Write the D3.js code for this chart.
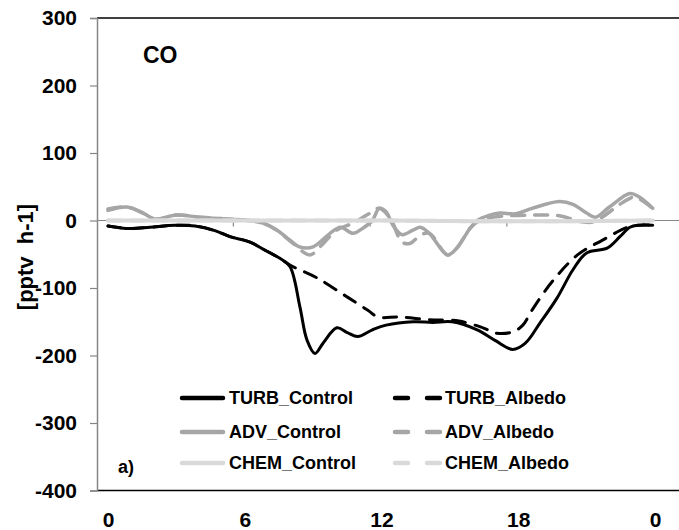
<!DOCTYPE html>
<html>
<head>
<meta charset="utf-8">
<script src="https://cdn.jsdelivr.net/npm/d3@7"></script>
<style>
  html, body { margin: 0; padding: 0; background: #fff; }
  svg { display: block; font-family: "Liberation Sans", Arial, sans-serif; font-weight: bold; }
</style>
</head>
<body>
<svg id="chart" width="679" height="530"></svg>
<script>
// ---- data (hour of day, pptv h-1) ----
const xTickLabels = ["0", "6", "12", "18", "0"];
const xTickHours = [0, 6, 12, 18, 24];
const xMinorTicks = [5.5, 11.5, 17.5, 23.5];
const yTicks = [300, 200, 100, 0, -100, -200, -300, -400];

const turbControl = [[0,-8],[0.96,-12],[1.84,-10],[2.94,-7],[3.82,-8],[4.69,-15],[5.35,-24],[6.23,-32],[6.89,-44],[7.54,-56],[7.98,-68],[8.42,-128],[8.73,-177],[9.08,-197],[9.45,-181],[10.04,-159],[10.5,-166],[10.96,-172],[11.6,-162],[12.2,-155],[13.4,-150],[14.25,-151],[15.1,-150],[16.2,-162],[17.0,-178],[17.76,-191],[18.3,-182],[18.95,-152],[19.7,-115],[20.4,-73],[21.0,-48],[21.9,-41],[22.46,-24],[22.9,-10],[23.3,-7],[23.9,-7]];
const turbAlbedo = [[0,-8],[0.96,-12],[1.84,-10],[2.94,-7],[3.82,-8],[4.69,-15],[5.35,-24],[6.23,-32],[6.89,-44],[7.54,-56],[7.98,-66],[9.17,-85],[10.48,-113],[11.4,-133],[11.85,-143],[12.8,-143],[14.1,-147],[15.4,-149],[16.45,-159],[17.05,-167],[17.76,-165],[18.2,-155],[18.6,-133],[19.5,-90],[20.6,-51],[21.7,-29],[22.8,-10],[23.3,-7],[23.9,-7]];
const advControl = [[0,15],[0.83,20],[1.54,11],[2.06,2],[3.0,8],[4.0,5],[5.35,2],[6.2,0],[6.8,-4],[7.4,-14],[7.98,-29],[8.4,-39],[9.0,-39],[9.74,-19],[10.2,-10],[10.75,-19],[11.2,-11],[11.6,0],[11.9,18],[12.2,13],[12.5,-7],[12.9,-21],[13.4,-14],[13.7,-10],[14.1,-19],[14.9,-51],[15.3,-41],[15.9,-11],[16.2,0],[16.75,8],[17.2,11],[17.9,10],[18.6,18],[19.8,28],[20.4,24],[21.0,11],[21.4,5],[22.0,20],[22.9,40],[23.3,35],[23.9,18]];
const advAlbedo = [[0,17],[0.83,20],[1.54,11],[2.06,2],[3.0,8],[4.0,5],[5.35,2],[6.2,0],[6.8,-4],[7.4,-14],[7.98,-30],[8.86,-51],[9.3,-39],[10.04,-14],[10.75,-4],[11.5,11],[11.9,18],[12.4,2],[12.9,-32],[13.25,-34],[13.7,-22],[14.1,-19],[14.9,-51],[15.3,-41],[15.9,-11],[16.3,0],[16.9,5],[18.5,8],[19.8,7],[20.8,-2],[21.3,-2],[22.3,20],[22.6,27],[23.1,35],[23.5,28],[23.9,18]];
const chemControl = [[0,0],[4,0],[8,0],[12,0],[16,-1],[20,-1],[23.9,0]];
const chemAlbedo = [[0,0],[4,0],[8,0],[12,0],[16,-1],[20,-1],[23.9,0]];

const seriesNames = ["TURB_Control", "TURB_Albedo", "ADV_Control", "ADV_Albedo", "CHEM_Control", "CHEM_Albedo"];

// ---- layout ----
const svg = d3.select("#chart");
const plotLeft = 97, plotRight = 679, plotTop = 18, plotBottom = 490.5;
const x = d3.scaleLinear().domain([0, 24]).range([108, 655]);
const y = d3.scaleLinear().domain([-400, 300]).range([plotBottom, plotTop]);

const styles = {
  TURB_Control: {data: turbControl, color: "#000000", width: 3, dash: null},
  TURB_Albedo:  {data: turbAlbedo,  color: "#000000", width: 3, dash: "13,10"},
  ADV_Control:  {data: advControl,  color: "#a6a6a6", width: 3.5, dash: null},
  ADV_Albedo:   {data: advAlbedo,   color: "#a6a6a6", width: 3.5, dash: "13,10"},
  CHEM_Control: {data: chemControl, color: "#d9d9d9", width: 4, dash: null},
  CHEM_Albedo:  {data: chemAlbedo,  color: "#d9d9d9", width: 4, dash: "13,10"}
};

// frame
svg.append("line").attr("x1", plotLeft).attr("x2", plotRight).attr("y1", plotTop).attr("y2", plotTop)
  .attr("stroke", "#000").attr("stroke-width", 1.5);
svg.append("line").attr("x1", plotLeft).attr("x2", plotRight).attr("y1", plotBottom).attr("y2", plotBottom)
  .attr("stroke", "#000").attr("stroke-width", 1.5);

// y axis
const yAxis = svg.append("g").attr("transform", `translate(${plotLeft},0)`)
  .call(d3.axisLeft(y).tickValues(yTicks).tickSize(7).tickPadding(13).tickFormat(d => String(d)));
yAxis.select(".domain").attr("stroke", "#868686").attr("stroke-width", 1.5);
yAxis.selectAll(".tick line").attr("stroke", "#868686").attr("stroke-width", 1.2);
yAxis.selectAll(".tick text").attr("font-size", 21).attr("font-weight", "bold")
  .attr("fill", "#000").attr("font-family", "Liberation Sans, Arial, sans-serif");

// zero line with minor ticks
svg.append("line").attr("x1", plotLeft).attr("x2", plotRight).attr("y1", y(0)).attr("y2", y(0))
  .attr("stroke", "#868686").attr("stroke-width", 1.2);
svg.selectAll(".minortick").data(xMinorTicks).enter().append("line")
  .attr("x1", d => x(d)).attr("x2", d => x(d)).attr("y1", y(0)).attr("y2", y(0) + 6)
  .attr("stroke", "#868686").attr("stroke-width", 1.2);

// x axis labels
const xAxis = svg.append("g").attr("transform", `translate(0,${plotBottom})`)
  .call(d3.axisBottom(x).tickValues(xTickHours).tickSize(0).tickPadding(22)
    .tickFormat((d, i) => xTickLabels[i]));
xAxis.select(".domain").remove();
xAxis.selectAll(".tick text").attr("font-size", 21).attr("font-weight", "bold")
  .attr("fill", "#000").attr("font-family", "Liberation Sans, Arial, sans-serif");

// lines
const line = d3.line().x(d => x(d[0])).y(d => y(d[1])).curve(d3.curveCatmullRom.alpha(0.5));
seriesNames.forEach(name => {
  const s = styles[name];
  svg.append("path").datum(s.data).attr("d", line)
    .attr("fill", "none").attr("stroke", s.color).attr("stroke-width", s.width)
    .attr("stroke-linejoin", "round").attr("stroke-linecap", "round")
    .attr("stroke-dasharray", s.dash);
});

// labels
svg.append("text").attr("x", 143).attr("y", 63).attr("font-size", 23).text("CO");
svg.append("text").attr("x", 118).attr("y", 473).attr("font-size", 18).text("a)");
svg.append("text").attr("transform", "translate(33,257) rotate(-90)")
  .attr("text-anchor", "middle").attr("font-size", 22)
  .style("white-space", "pre").text("[pptv  h-1]");

// legend
const legendCols = [{x1: 182, x2: 223, tx: 229}, {x1: 395, x2: 442, tx: 445}];
const legendRows = [398, 432, 463];
seriesNames.forEach((name, i) => {
  const c = legendCols[i % 2], r = legendRows[Math.floor(i / 2)];
  const s = styles[name];
  svg.append("line").attr("x1", c.x1).attr("x2", c.x2).attr("y1", r).attr("y2", r)
    .attr("stroke", s.color).attr("stroke-width", 4.5).attr("stroke-linecap", "round")
    .attr("stroke-dasharray", s.dash ? "13,19" : null);
  svg.append("text").attr("x", c.tx).attr("y", r).attr("dy", "0.35em")
    .attr("font-size", 18).text(name);
});
</script>
</body>
</html>
